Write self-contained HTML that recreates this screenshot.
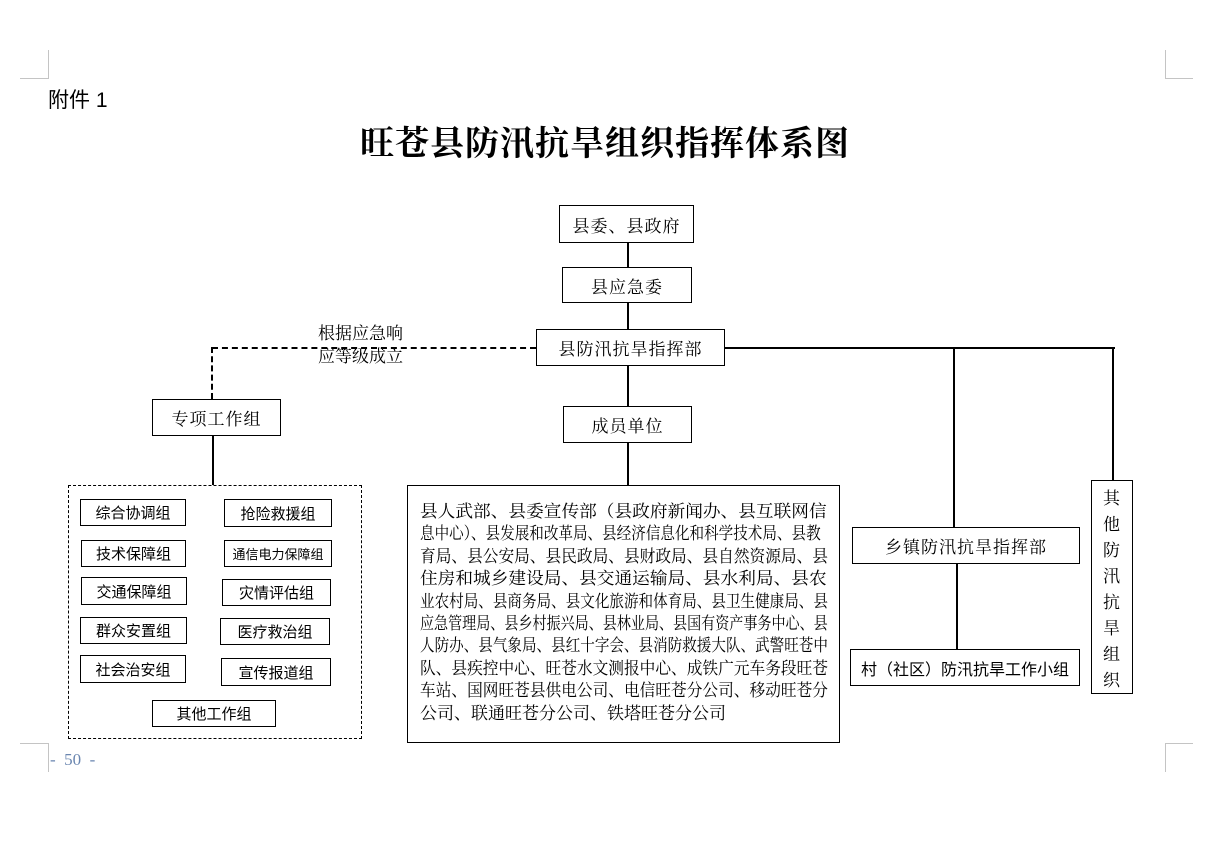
<!DOCTYPE html>
<html><head><meta charset="utf-8"><style>
body{margin:0;width:1230px;height:860px;background:#fff;position:relative;overflow:hidden;font-family:"Liberation Sans","Noto Sans CJK SC",sans-serif;color:#000}
.a{position:absolute}
.b{position:absolute;border:1.5px solid #000;box-sizing:border-box;display:flex;align-items:center;justify-content:center;font-size:17px;font-family:"Liberation Serif","Noto Serif CJK SC",serif;letter-spacing:1px;white-space:nowrap}
.s{font-size:15px;font-family:"Liberation Sans","Noto Sans CJK SC",sans-serif;border-width:1.2px;letter-spacing:0}
.h{position:absolute;background:#000;height:2px}
.v{position:absolute;background:#000;width:2px}
.g{position:absolute;background:#c4c4c4}
.ln{height:22.4px;line-height:22.4px;white-space:nowrap}
.ln span{display:inline-block;transform-origin:0 50%;letter-spacing:0}
</style></head><body>
<div class="g" style="left:20px;top:78px;width:28px;height:1px"></div>
<div class="g" style="left:48px;top:50px;width:1px;height:29px"></div>
<div class="g" style="left:1165px;top:78px;width:28px;height:1px"></div>
<div class="g" style="left:1165px;top:50px;width:1px;height:29px"></div>
<div class="g" style="left:20px;top:743px;width:28px;height:1px"></div>
<div class="g" style="left:48px;top:743px;width:1px;height:29px"></div>
<div class="g" style="left:1165px;top:743px;width:28px;height:1px"></div>
<div class="g" style="left:1165px;top:743px;width:1px;height:29px"></div>
<div class="a" style="left:48px;top:84px;font-size:21px">附件 1</div>
<div class="a" style="left:50px;top:750px;font-size:17px;color:#6a86b0;font-family:'Liberation Serif',serif;white-space:pre">-  50  -</div>
<div class="a" style="left:340px;top:116px;width:530px;text-align:center;font-size:34px;font-weight:bold;font-family:'Liberation Serif','Noto Serif CJK SC',serif;letter-spacing:1px">旺苍县防汛抗旱组织指挥体系图</div>

<div class="b" style="left:559px;top:205px;width:135px;height:38px">县委、县政府</div>
<div class="b" style="left:562px;top:267px;width:130px;height:36px">县应急委</div>
<div class="b" style="left:536px;top:329px;width:189px;height:37px">县防汛抗旱指挥部</div>
<div class="b" style="left:563px;top:406px;width:129px;height:37px">成员单位</div>
<div class="b" style="left:152px;top:399px;width:129px;height:37px">专项工作组</div>
<div class="b" style="left:852px;top:527px;width:228px;height:37px">乡镇防汛抗旱指挥部</div>
<div class="b s" style="left:850px;top:649px;width:230px;height:37px;font-size:16px">村（社区）防汛抗旱工作小组</div>
<div class="b" style="left:1091px;top:480px;width:42px;height:214px;white-space:normal;line-height:26px;text-align:center;padding:6px 12px 0">其他防汛抗旱组织</div>

<div class="v" style="left:627px;top:243px;height:24px"></div>
<div class="v" style="left:627px;top:303px;height:26px"></div>
<div class="v" style="left:627px;top:366px;height:40px"></div>
<div class="v" style="left:627px;top:443px;height:42px"></div>
<div class="h" style="left:725px;top:347px;width:390px"></div>
<div class="v" style="left:953px;top:347px;height:180px"></div>
<div class="v" style="left:1112px;top:347px;height:133px"></div>
<div class="v" style="left:956px;top:564px;height:85px"></div>
<div class="v" style="left:212px;top:436px;height:49px"></div>
<div class="a" style="left:212px;top:347px;width:324px;border-top:2px dashed #000"></div>
<div class="a" style="left:211px;top:347px;height:52px;border-left:2px dashed #000"></div>
<div class="a" style="left:318px;top:322px;font-size:17px;line-height:23px;font-family:'Liberation Serif','Noto Serif CJK SC',serif">根据应急响<br>应等级成立</div>

<div class="a" style="left:68px;top:485px;width:294px;height:254px;border:1.3px dashed #000;box-sizing:border-box"></div>
<div class="b s" style="left:80px;top:499px;width:106px;height:27px">综合协调组</div>
<div class="b s" style="left:224px;top:499px;width:108px;height:28px">抢险救援组</div>
<div class="b s" style="left:81px;top:540px;width:105px;height:27px">技术保障组</div>
<div class="b s" style="left:224px;top:540px;width:108px;height:27px;font-size:13px">通信电力保障组</div>
<div class="b s" style="left:81px;top:577px;width:106px;height:28px">交通保障组</div>
<div class="b s" style="left:222px;top:579px;width:109px;height:27px">灾情评估组</div>
<div class="b s" style="left:80px;top:617px;width:107px;height:27px">群众安置组</div>
<div class="b s" style="left:220px;top:618px;width:110px;height:27px">医疗救治组</div>
<div class="b s" style="left:80px;top:655px;width:106px;height:28px">社会治安组</div>
<div class="b s" style="left:221px;top:658px;width:110px;height:28px">宣传报道组</div>
<div class="b s" style="left:152px;top:700px;width:124px;height:27px">其他工作组</div>

<div class="a" style="left:407px;top:485px;width:433px;height:258px;border:1.5px solid #000;box-sizing:border-box"></div>
<div class="a" style="left:420px;top:501px;width:408px;font-size:17px;font-family:'Liberation Serif','Noto Serif CJK SC',serif">
<div class="ln"><span style="transform:scaleX(1.04)">县人武部、县委宣传部（县政府新闻办、县互联网信</span></div>
<div class="ln"><span style="transform:scaleX(0.857)">息中心）、县发展和改革局、县经济信息化和科学技术局、县教</span></div>
<div class="ln"><span style="transform:scaleX(0.923)">育局、县公安局、县民政局、县财政局、县自然资源局、县</span></div>
<div class="ln"><span style="transform:scaleX(1.04)">住房和城乡建设局、县交通运输局、县水利局、县农</span></div>
<div class="ln"><span style="transform:scaleX(0.857)">业农村局、县商务局、县文化旅游和体育局、县卫生健康局、县</span></div>
<div class="ln"><span style="transform:scaleX(0.827)">应急管理局、县乡村振兴局、县林业局、县国有资产事务中心、县</span></div>
<div class="ln"><span style="transform:scaleX(0.857)">人防办、县气象局、县红十字会、县消防救援大队、武警旺苍中</span></div>
<div class="ln"><span style="transform:scaleX(0.923)">队、县疾控中心、旺苍水文测报中心、成铁广元车务段旺苍</span></div>
<div class="ln"><span style="transform:scaleX(0.923)">车站、国网旺苍县供电公司、电信旺苍分公司、移动旺苍分</span></div>
<div class="ln"><span style="transform:scaleX(1.0)">公司、联通旺苍分公司、铁塔旺苍分公司</span></div>
</div>
</body></html>
